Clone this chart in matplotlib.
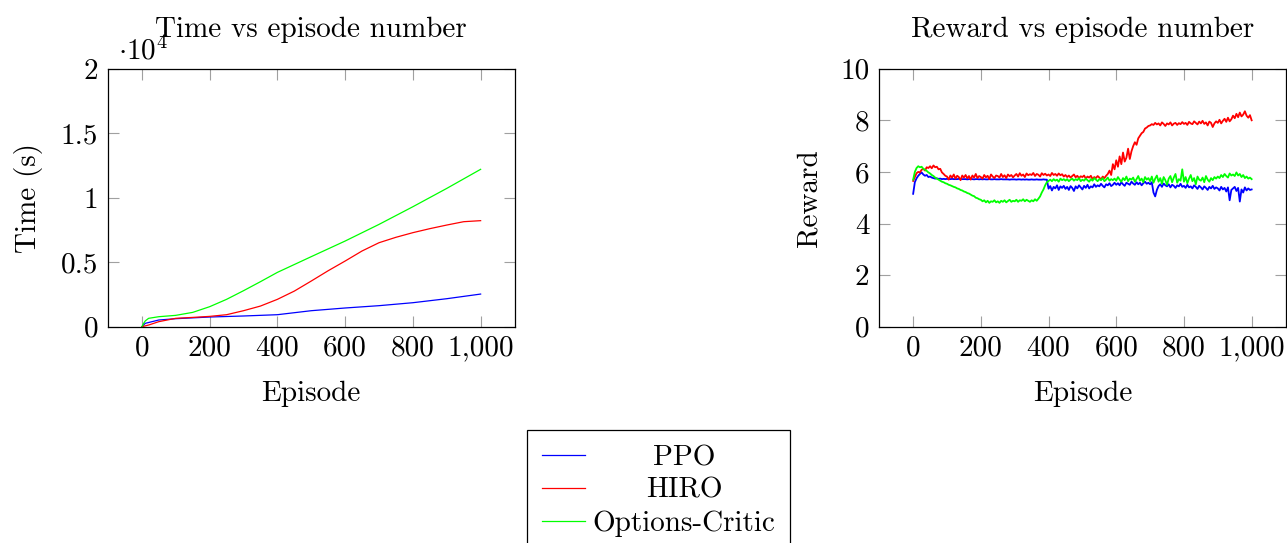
import matplotlib
matplotlib.use("Agg")
import matplotlib.pyplot as plt
from matplotlib.ticker import FuncFormatter
import numpy as np

plt.rcParams['font.family'] = ['cmr10', 'DejaVu Serif']
plt.rcParams['mathtext.fontset'] = 'cm'
plt.rcParams['axes.unicode_minus'] = False

# ---------------- data ----------------
series_names = ["PPO", "HIRO", "Options-Critic"]
series_colors = ["#0000ff", "#ff0000", "#00ff00"]

# Time (s) vs episode
time_ppo_x = [0, 10, 50, 100, 200, 300, 400, 500, 600, 700, 800, 900, 1000]
time_ppo_y = [0, 260, 520, 620, 750, 830, 930, 1240, 1450, 1630, 1860, 2170, 2530]

time_hiro_x = [0, 20, 50, 100, 150, 200, 250, 300, 350, 400, 450, 500, 550, 600,
               650, 700, 750, 800, 850, 900, 950, 1000]
time_hiro_y = [0, 130, 390, 650, 720, 800, 930, 1240, 1600, 2120, 2760, 3540, 4340, 5090,
               5870, 6510, 6930, 7290, 7600, 7880, 8140, 8220]

time_oc_x = [0, 5, 10, 20, 50, 100, 150, 200, 250, 300, 350, 400, 500, 600, 700, 800, 900, 1000]
time_oc_y = [0, 250, 450, 650, 775, 880, 1110, 1550, 2120, 2790, 3490, 4210, 5430, 6640,
             7930, 9300, 10720, 12200]

# Reward vs episode (sampled every 5 episodes)
reward_x = list(range(0, 1001, 5))

reward_ppo = [
    5.15, 5.60, 5.75, 5.85, 5.92, 5.98, 5.90, 5.85, 5.88, 5.80,
    5.82, 5.78, 5.76, 5.74, 5.75, 5.73, 5.74, 5.72, 5.73, 5.72,
    5.73, 5.72, 5.72, 5.73, 5.72, 5.72, 5.72, 5.73, 5.72, 5.72,
    5.72, 5.72, 5.71, 5.72, 5.72, 5.72, 5.71, 5.72, 5.72, 5.71,
    5.72, 5.71, 5.72, 5.71, 5.71, 5.72, 5.71, 5.71, 5.72, 5.71,
    5.71, 5.71, 5.72, 5.71, 5.71, 5.71, 5.71, 5.70, 5.71, 5.71,
    5.71, 5.70, 5.71, 5.71, 5.70, 5.71, 5.70, 5.71, 5.70, 5.70,
    5.71, 5.70, 5.70, 5.71, 5.70, 5.70, 5.70, 5.71, 5.70, 5.70,
    5.35, 5.45, 5.28, 5.42, 5.36, 5.48, 5.30, 5.44, 5.38, 5.46,
    5.34, 5.42, 5.30, 5.45, 5.38, 5.26, 5.44, 5.36, 5.48, 5.40,
    5.32, 5.46, 5.38, 5.50, 5.36, 5.44, 5.40, 5.52, 5.42, 5.48,
    5.44, 5.54, 5.46, 5.40, 5.52, 5.48, 5.56, 5.45, 5.50, 5.58,
    5.50, 5.56, 5.48, 5.60, 5.52, 5.46, 5.58, 5.54, 5.50, 5.62,
    5.55, 5.50, 5.60, 5.52, 5.58, 5.48, 5.56, 5.62, 5.54, 5.58,
    5.52, 5.60, 5.20, 5.05, 5.30, 5.45, 5.52, 5.42, 5.55, 5.48,
    5.44, 5.52, 5.40, 5.50, 5.46, 5.38, 5.48, 5.44, 5.54, 5.42,
    5.46, 5.38, 5.50, 5.40, 5.44, 5.36, 5.48, 5.42, 5.34, 5.46,
    5.40, 5.32, 5.44, 5.38, 5.30, 5.42, 5.36, 5.46, 5.34, 5.40,
    5.36, 5.28, 5.42, 5.32, 5.38, 5.24, 5.40, 4.90, 5.30, 5.36,
    5.42, 5.26, 5.38, 4.85, 5.32, 5.20, 5.40, 5.28, 5.36, 5.30,
    5.32,
]

reward_hiro = [
    5.65, 5.80, 5.95, 6.00, 5.98, 6.08, 6.12, 6.05, 6.18, 6.15,
    6.22, 6.14, 6.25, 6.18, 6.20, 6.10, 6.12, 5.98, 5.92, 5.85,
    5.82, 5.70, 5.86, 5.78, 5.90, 5.74, 5.85, 5.80, 5.68, 5.86,
    5.78, 5.88, 5.75, 5.84, 5.70, 5.86, 5.78, 5.92, 5.76, 5.84,
    5.80, 5.74, 5.88, 5.79, 5.85, 5.72, 5.90, 5.82, 5.76, 5.86,
    5.84, 5.78, 5.92, 5.80, 5.87, 5.76, 5.90, 5.83, 5.88, 5.79,
    5.86, 5.92, 5.82, 5.95, 5.85, 5.90, 5.80, 5.94, 5.87, 5.91,
    5.88, 5.96, 5.84, 5.92, 5.89, 5.82, 5.95, 5.88, 5.93, 5.86,
    5.90, 5.84, 5.96, 5.88, 5.92, 5.85, 5.94, 5.87, 5.91, 5.82,
    5.88, 5.80, 5.86, 5.78, 5.84, 5.90, 5.79, 5.85, 5.76, 5.83,
    5.80, 5.86, 5.74, 5.82, 5.78, 5.85, 5.72, 5.80, 5.76, 5.84,
    5.78, 5.70, 5.82, 5.76, 5.85, 5.92, 6.05, 5.88, 6.30, 6.10,
    6.45, 6.20, 6.60, 6.30, 6.75, 6.40, 6.55, 6.90, 6.50, 6.80,
    7.00, 7.15, 7.05, 7.30, 7.40, 7.50, 7.55, 7.68, 7.72, 7.78,
    7.80, 7.85, 7.82, 7.90, 7.84, 7.88, 7.80, 7.92, 7.86, 7.78,
    7.88, 7.84, 7.92, 7.80, 7.87, 7.90, 7.82, 7.89, 7.85, 7.93,
    7.86, 7.90, 7.82, 7.94, 7.88, 7.85, 7.96, 7.90, 7.84, 7.95,
    7.88, 7.98, 7.86, 7.92, 7.80, 7.95, 7.90, 7.74, 7.88, 7.96,
    7.90, 8.02, 7.88, 7.98, 8.06, 7.94, 8.10, 7.96, 8.04, 8.18,
    8.08, 8.25, 8.12, 8.30, 8.15, 8.22, 8.35, 8.18, 8.10, 8.20,
    8.00,
]

reward_oc = [
    5.70, 6.00, 6.15, 6.22, 6.18, 6.20, 6.12, 6.08, 6.04, 5.98,
    5.94, 5.88, 5.84, 5.78, 5.74, 5.70, 5.66, 5.62, 5.60, 5.56,
    5.54, 5.50, 5.48, 5.45, 5.42, 5.40, 5.36, 5.34, 5.30, 5.28,
    5.24, 5.22, 5.18, 5.16, 5.12, 5.08, 5.06, 5.00, 4.98, 4.94,
    4.92, 4.86, 4.90, 4.82, 4.88, 4.80, 4.86, 4.84, 4.90, 4.82,
    4.86, 4.80, 4.88, 4.84, 4.90, 4.82, 4.87, 4.92, 4.84, 4.88,
    4.86, 4.92, 4.84, 4.90, 4.88, 4.94, 4.86, 4.92, 4.88, 4.84,
    4.90, 4.86, 4.94, 4.88, 4.96, 5.05, 5.20, 5.32, 5.48, 5.60,
    5.65, 5.70, 5.64, 5.72, 5.66, 5.70, 5.62, 5.74, 5.68, 5.72,
    5.66, 5.72, 5.64, 5.70, 5.74, 5.66, 5.72, 5.68, 5.76, 5.64,
    5.70, 5.66, 5.74, 5.68, 5.62, 5.72, 5.66, 5.76, 5.70, 5.64,
    5.72, 5.68, 5.76, 5.64, 5.70, 5.78, 5.66, 5.72, 5.68, 5.74,
    5.66, 5.80, 5.70, 5.62, 5.76, 5.68, 5.82, 5.64, 5.74, 5.70,
    5.78, 5.62, 5.72, 5.84, 5.66, 5.74, 5.60, 5.80, 5.70, 5.76,
    5.64, 5.82, 5.58, 5.74, 5.86, 5.62, 5.76, 5.54, 5.80, 5.68,
    5.50, 5.74, 5.84, 5.60, 5.78, 5.92, 5.58, 5.72, 5.66, 6.10,
    5.62, 5.80, 5.56, 5.74, 5.88, 5.64, 5.76, 5.52, 5.82, 5.70,
    5.66, 5.78, 5.60, 5.84, 5.70, 5.62, 5.76, 5.68, 5.80, 5.74,
    5.82, 5.76, 5.88, 5.80, 5.92, 5.84, 5.78, 5.94, 5.86, 5.90,
    5.84, 5.98, 5.86, 5.92, 5.80, 5.88, 5.76, 5.82, 5.74, 5.78,
    5.72,
]

x_ticks = [0, 200, 400, 600, 800, 1000]
time_ticks = [0, 5000, 10000, 15000, 20000]
reward_ticks = [0, 2, 4, 6, 8, 10]

# ---------------- figure ----------------
W, H = 1287, 543
fig = plt.figure(figsize=(W / 100, H / 100), dpi=100)
FS = 21

def ax_rect(l, r, t, b):
    return [l / W, 1 - b / H, (r - l) / W, (b - t) / H]

ax1 = fig.add_axes(ax_rect(108, 514.5, 68.7, 326.7))
ax2 = fig.add_axes(ax_rect(879.3, 1285.5, 68.7, 326.7))

ax1.plot(time_ppo_x, time_ppo_y, color=series_colors[0], lw=0.9)
ax1.plot(time_hiro_x, time_hiro_y, color=series_colors[1], lw=0.9)
ax1.plot(time_oc_x, time_oc_y, color=series_colors[2], lw=0.9)

lines = []
for ys, c, n in zip([reward_ppo, reward_hiro, reward_oc], series_colors, series_names):
    ln, = ax2.plot(reward_x, ys, color=c, lw=1.3, label=n)
    lines.append(ln)

xfmt = FuncFormatter(lambda v, p: f"{int(round(v)):,}")
for ax in (ax1, ax2):
    ax.set_xlim(-100, 1100)
    ax.set_xticks(x_ticks)
    ax.xaxis.set_major_formatter(xfmt)
    ax.tick_params(direction='in', length=8, width=0.8, color='#a0a0a0',
                   top=True, right=True, labelsize=FS)
    ax.tick_params(axis='x', pad=6)
    ax.tick_params(axis='y', pad=7)
    for s in ax.spines.values():
        s.set_linewidth(0.9)
        s.set_color('black')
    ax.set_xlabel("Episode", fontsize=FS, labelpad=14)

ax1.set_ylim(0, 20000)
ax1.set_yticks(time_ticks)
ax1.yaxis.set_major_formatter(FuncFormatter(lambda v, p: f"{v / 1e4:g}"))
ax1.set_ylabel("Time (s)", fontsize=FS, labelpad=13)
ax1.set_title("Time vs episode number", fontsize=FS, pad=23)
ax1.text(10 / 406.5, 1 + 8.7 / 258, r"$\cdot 10^4$", transform=ax1.transAxes,
         fontsize=FS, va='baseline', ha='left')

ax2.set_ylim(0, 10)
ax2.set_yticks(reward_ticks)
ax2.set_ylabel("Reward", fontsize=FS, labelpad=13)
ax2.set_title("Reward vs episode number", fontsize=FS, pad=23)

leg = fig.legend(handles=[plt.Line2D([], [], color=c, lw=0.9) for c in series_colors],
                 labels=series_names, loc='upper center',
                 bbox_to_anchor=(658.5 / W, 1 - 430 / H), fontsize=FS,
                 frameon=True, fancybox=False, shadow=False, framealpha=1,
                 edgecolor='black', handlelength=1.5, handletextpad=0.25,
                 borderpad=0.5, labelspacing=0.22, borderaxespad=0)
leg.get_frame().set_linewidth(0.9)

fig.canvas.draw()
r = fig.canvas.get_renderer()
texts = leg.get_texts()
ws = [t.get_window_extent(r).width for t in texts]
wmax = max(ws)
for t, w in zip(texts, ws):
    t.set_x((wmax - w) / 2)

fig.savefig("out.png", dpi=100)
